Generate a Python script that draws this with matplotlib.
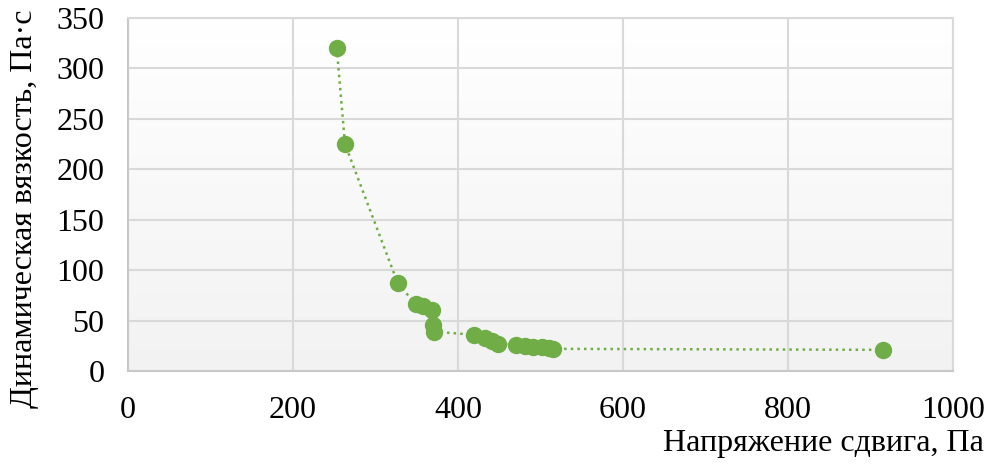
import numpy as np
import matplotlib
matplotlib.use("Agg")
import matplotlib.pyplot as plt

plt.rcParams['font.family'] = ['Liberation Serif', 'DejaVu Serif']

stress = [253, 263, 327, 349, 358, 368, 370, 371, 419, 433, 441, 449,
          470, 481, 491, 502, 510, 515, 915]
viscosity = [320, 225, 87, 66, 64, 61, 46, 39, 36, 33, 30, 27,
             26, 25, 24, 24, 23, 22, 21]

xticks = [0, 200, 400, 600, 800, 1000]
yticks = [0, 50, 100, 150, 200, 250, 300, 350]

green = "#70ad47"
grid_col = "#d9d9d9"

fig = plt.figure(figsize=(9.94, 4.70), dpi=100)
ax = fig.add_axes([0.1288, 0.2106, 0.83, 0.751])

# light vertical gradient behind the plot area
grad = np.linspace(0.95, 1.0, 256).reshape(-1, 1)
ax.imshow(np.dstack([grad, grad, grad]), extent=[0, 1, 0, 1], transform=ax.transAxes,
          aspect='auto', origin='lower', zorder=0)

ax.plot(stress, viscosity, ':', color=green, lw=1.8, zorder=3)
ax.plot(stress, viscosity, 'o', color=green, ms=11.5, zorder=4)

ax.set_xlim(0, 1000)
ax.set_ylim(0, 350)
ax.set_xticks(xticks)
ax.set_yticks(yticks)
ax.grid(True, color=grid_col, lw=1.5, zorder=1)
ax.set_axisbelow(True)
ax.tick_params(length=0, labelsize=23)
ax.tick_params(axis='x', pad=18)
ax.tick_params(axis='y', pad=17)

for side in ['top', 'right']:
    ax.spines[side].set_color(grid_col)
    ax.spines[side].set_linewidth(1.5)
for side in ['left', 'bottom']:
    ax.spines[side].set_color("#c8c8c8")
    ax.spines[side].set_linewidth(1.5)

fig.text(0.99, 0.025, "Напряжение сдвига, Па", ha='right', va='bottom', fontsize=23)
fig.text(0.01, 0.555, "Динамическая вязкость, Па·с", rotation=90, ha='left', va='center',
         fontsize=23)

plt.savefig("out.png", dpi=100)
